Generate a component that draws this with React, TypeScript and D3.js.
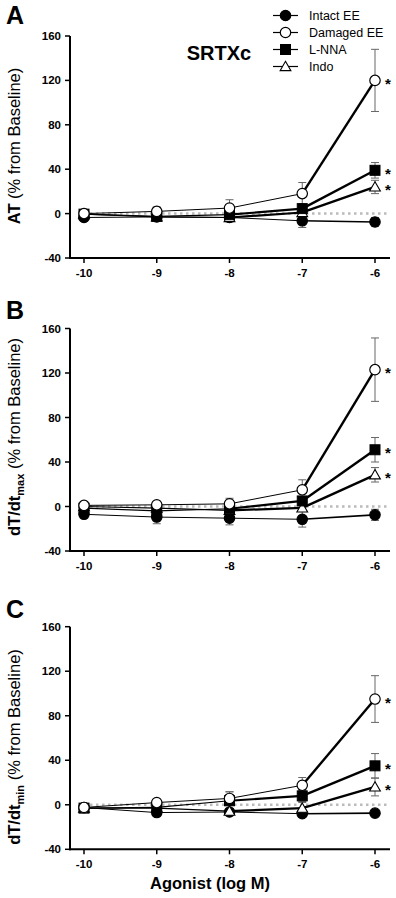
import React from "react";
import * as d3 from "d3";

const doses = [-10, -9, -8, -7, -6];
const xTickLabels = ["-10", "-9", "-8", "-7", "-6"];
const yTicks = [-40, 0, 40, 80, 120, 160];
const seriesNames = ["Intact EE", "Damaged EE", "L-NNA", "Indo"];

// Panel A: AT
const aIntact = [-3.5, -3, -3.5, -6.5, -7.5];
const aIntactErr = [2, 3, 4, 6, 4];
const aDamaged = [0, 2, 5, 18, 120];
const aDamagedErr = [2, 4, 7.5, 10, 28];
const aLNNA = [-0.5, -2.5, -1, 4.5, 39];
const aLNNAErr = [1, 2, 3, 4, 7];
const aIndo = [-0.5, -3, -3.5, 1, 24];
const aIndoErr = [1, 2, 3, 3, 6];

// Panel B: dT/dt max
const bIntact = [-7, -9.5, -10.5, -11.5, -7.5];
const bIntactErr = [2, 6, 6, 7, 5];
const bDamaged = [1, 1.5, 2.4, 15, 123];
const bDamagedErr = [2, 3, 5, 9, 28.5];
const bLNNA = [-1.5, -4, -2, 5, 51];
const bLNNAErr = [1, 2, 3, 4, 11];
const bIndo = [0, -1.5, -3.5, -1.2, 28.5];
const bIndoErr = [1, 2, 3, 3, 6.5];

// Panel C: dT/dt min
const cIntact = [-2.5, -7, -6.5, -8, -7.5];
const cIntactErr = [1, 2, 2, 2, 2];
const cDamaged = [-2.4, 2, 5.7, 17.5, 95];
const cDamagedErr = [1, 2, 6, 7, 21];
const cLNNA = [-3, -2.4, 3.6, 8, 35];
const cLNNAErr = [1, 2, 8, 5, 11];
const cIndo = [-3, -3, -5.7, -3, 16];
const cIndoErr = [1, 2, 2, 5, 8];

// segment widths (style): index i is segment from dose i to i+1
const segWidths = [
  [1, 1, 1, 1.6],
  [1, 1, 1, 2.4],
  [1.2, 1.2, 2.2, 2.4],
  [1.2, 1.2, 2.2, 2.4],
];
const markerFill = ["#000", "#fff", "#000", "#fff"];
const markerShape = ["circle", "circle", "square", "triangle"];

type Panel = {
  letter: string;
  top: number;
  bottom: number;
  letterY: number;
  titleMain: string;
  titleSub?: string;
  titleCy: number;
  values: number[][];
  errs: number[][];
};

const panels: Panel[] = [
  { letter: "A", top: 36, bottom: 258, letterY: 24, titleMain: "AT", titleCy: 146,
    values: [aIntact, aDamaged, aLNNA, aIndo], errs: [aIntactErr, aDamagedErr, aLNNAErr, aIndoErr] },
  { letter: "B", top: 328.5, bottom: 551, letterY: 319, titleMain: "dT/dt", titleSub: "max", titleCy: 437,
    values: [bIntact, bDamaged, bLNNA, bIndo], errs: [bIntactErr, bDamagedErr, bLNNAErr, bIndoErr] },
  { letter: "C", top: 626.7, bottom: 849.3, letterY: 618, titleMain: "dT/dt", titleSub: "min", titleCy: 747,
    values: [cIntact, cDamaged, cLNNA, cIndo], errs: [cIntactErr, cDamagedErr, cLNNAErr, cIndoErr] },
];

const FONT = "Liberation Sans, Arial, sans-serif";
const x = d3.scaleLinear().domain([-10, -6]).range([84, 375]);
const AXIS_LEFT = 70;
const AXIS_RIGHT = 390;

function Marker({ shape, fill, cx, cy }: { shape: string; fill: string; cx: number; cy: number }) {
  if (shape === "circle") return <circle cx={cx} cy={cy} r={5.2} fill={fill} stroke="#000" strokeWidth={1.2} />;
  if (shape === "square") return <rect x={cx - 5} y={cy - 5} width={10} height={10} fill={fill} stroke="#000" strokeWidth={1} />;
  const sym = d3.symbol().type(d3.symbolTriangle).size(50)();
  return <path d={sym || ""} transform={`translate(${cx},${cy + 1})`} fill={fill} stroke="#000" strokeWidth={1.1} />;
}

function PanelView({ p }: { p: Panel }) {
  const y = d3.scaleLinear().domain([-40, 160]).range([p.bottom, p.top]);
  const line = d3.line<[number, number]>().x((d) => x(d[0])).y((d) => y(d[1]));
  const order = [0, 3, 2, 1];
  return (
    <g>
      <text x={6} y={p.letterY} fontFamily={FONT} fontWeight="bold" fontSize={25}>{p.letter}</text>
      <line x1={x(-10)} x2={AXIS_RIGHT} y1={y(0)} y2={y(0)} stroke="#bbb" strokeWidth={2.5} strokeDasharray="2.5,3.5" />
      <line x1={AXIS_LEFT} x2={AXIS_LEFT} y1={p.top} y2={p.bottom + 1} stroke="#000" strokeWidth={2} />
      <line x1={AXIS_LEFT - 1} x2={AXIS_RIGHT} y1={p.bottom} y2={p.bottom} stroke="#000" strokeWidth={2} />
      {yTicks.map((t) => (
        <g key={t}>
          <line x1={AXIS_LEFT - 5} x2={AXIS_LEFT} y1={y(t)} y2={y(t)} stroke="#000" strokeWidth={1.5} />
          <text x={AXIS_LEFT - 9} y={y(t) + 4} textAnchor="end" fontFamily={FONT} fontWeight="bold" fontSize={11.5}>{t}</text>
        </g>
      ))}
      {doses.map((d, i) => (
        <g key={d}>
          <line x1={x(d)} x2={x(d)} y1={p.bottom} y2={p.bottom + 5} stroke="#000" strokeWidth={1.5} />
          <text x={x(d)} y={p.bottom + 19} textAnchor="middle" fontFamily={FONT} fontWeight="bold" fontSize={11.5}>{xTickLabels[i]}</text>
        </g>
      ))}
      <text transform={`translate(${20},${p.titleCy}) rotate(-90)`} textAnchor="middle" fontFamily={FONT} fontSize={16.5}>
        <tspan fontWeight="bold">{p.titleMain}</tspan>
        {p.titleSub && <tspan fontWeight="bold" fontSize={11} dy={4}>{p.titleSub}</tspan>}
        <tspan dy={p.titleSub ? -4 : 0}> (% from Baseline)</tspan>
      </text>
      {order.map((s) =>
        doses.map((d, i) => {
          const v = p.values[s][i];
          const e = p.errs[s][i];
          const cx = x(d);
          return (
            <g key={`e${s}-${i}`} stroke="#666" strokeWidth={1}>
              <line x1={cx} x2={cx} y1={y(v - e)} y2={y(v + e)} />
              <line x1={cx - 4} x2={cx + 4} y1={y(v + e)} y2={y(v + e)} />
              <line x1={cx - 4} x2={cx + 4} y1={y(v - e)} y2={y(v - e)} />
            </g>
          );
        })
      )}
      {order.map((s) =>
        doses.slice(0, -1).map((d, i) => (
          <path key={`l${s}-${i}`}
            d={line([[d, p.values[s][i]], [doses[i + 1], p.values[s][i + 1]]]) || ""}
            fill="none" stroke="#000" strokeWidth={segWidths[s][i]} />
        ))
      )}
      {order.map((s) =>
        doses.map((d, i) => (
          <Marker key={`m${s}-${i}`} shape={markerShape[s]} fill={markerFill[s]} cx={x(d)} cy={y(p.values[s][i])} />
        ))
      )}
      {[1, 2, 3].map((s) => (
        <text key={`a${s}`} x={385} y={y(p.values[s][4]) + 8.5} fontFamily={FONT} fontWeight="bold" fontSize={15}>*</text>
      ))}
    </g>
  );
}

export default function App() {
  return (
    <svg width={396} height={898} style={{ position: "absolute", left: 0, top: 0, background: "#fff" }}>
      <rect width={396} height={898} fill="#fff" />
      {panels.map((p) => <PanelView key={p.letter} p={p} />)}
      {seriesNames.map((n, i) => {
        const ly = 15.5 + i * 17;
        return (
          <g key={n}>
            <line x1={273} x2={298} y1={ly} y2={ly} stroke="#000" strokeWidth={1.2} />
            <Marker shape={markerShape[i]} fill={markerFill[i]} cx={285.5} cy={ly} />
            <text x={309} y={ly + 4.5} fontFamily={FONT} fontSize={12.5}>{n}</text>
          </g>
        );
      })}
      <text x={219} y={60} textAnchor="middle" fontFamily={FONT} fontWeight="bold" fontSize={20}>SRTXc</text>
      <text x={210} y={889} textAnchor="middle" fontFamily={FONT} fontWeight="bold" fontSize={16.5}>Agonist (log M)</text>
    </svg>
  );
}
